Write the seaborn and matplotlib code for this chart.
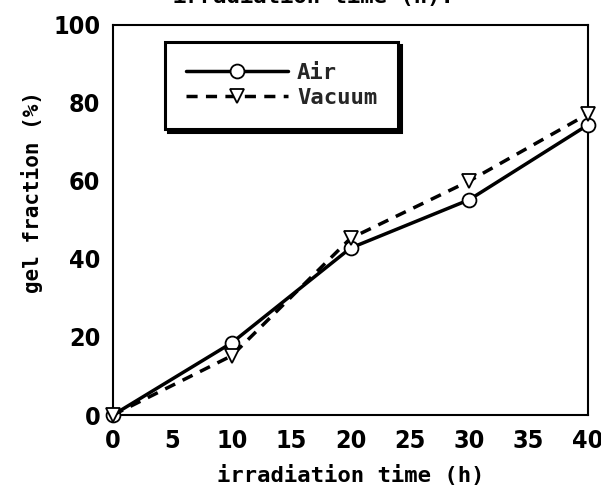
import matplotlib
matplotlib.use("Agg")
import matplotlib.pyplot as plt
import seaborn as sns
import pandas as pd
from matplotlib.lines import Line2D

# data
time_h = [0, 10, 20, 30, 40]
air = [0, 18.5, 42.8, 55.2, 74.4]
vacuum = [0, 15.2, 45.3, 60.0, 77.2]
series_names = ["Air", "Vacuum"]
x_ticks = [0, 5, 10, 15, 20, 25, 30, 35, 40]
y_ticks = [0, 20, 40, 60, 80, 100]

df = pd.DataFrame({
    "time": time_h * 2,
    "gel": air + vacuum,
    "series": [series_names[0]] * len(time_h) + [series_names[1]] * len(time_h),
})

sns.set_theme(style="white")
plt.rcParams["font.family"] = ["DejaVu Sans"]
mono = ["DejaVu Sans Mono", "DejaVu Sans"]

fig = plt.figure(figsize=(6.01, 4.86), dpi=100)
ax = fig.add_axes([113 / 601, 71 / 486, 475 / 601, 390 / 486])

sns.lineplot(data=df, x="time", y="gel", hue="series", style="series",
             palette={"Air": "black", "Vacuum": "black"},
             dashes={"Air": "", "Vacuum": (3.2, 2.4)},
             markers={"Air": "o", "Vacuum": "v"},
             markersize=10, markerfacecolor="white", markeredgecolor="black",
             markeredgewidth=1.3, linewidth=2.5, ax=ax, legend=False,
             clip_on=False, zorder=3)

ax.set_xlim(0, 40)
ax.set_ylim(0, 100)
ax.set_xticks(x_ticks)
ax.set_yticks(y_ticks)
tick_font = dict(fontsize=18, fontweight="bold", fontstretch="condensed")
ax.set_xticklabels([str(t) for t in x_ticks], **tick_font)
ax.set_yticklabels([str(t) for t in y_ticks], **tick_font)
ax.tick_params(axis="x", direction="in", length=13, width=1.5, pad=10, colors="black")
ax.tick_params(axis="y", direction="in", length=11, width=1.5, pad=9, colors="black")
for s in ax.spines.values():
    s.set_color("black")
    s.set_linewidth(1.5)

ax.set_xlabel("irradiation time (h)", fontsize=16, fontweight="bold",
              family=mono, labelpad=9, color="black")
ax.set_ylabel("gel fraction (%)", fontsize=15, fontweight="bold",
              family=mono, color="black")
ax.yaxis.set_label_coords(-0.147, 0.572)

# legend
handles = [
    Line2D([], [], color="black", lw=2.5, marker="o", markersize=10,
           markerfacecolor="white", markeredgecolor="black", markeredgewidth=1.3),
    Line2D([], [], color="black", lw=2.5, ls=(0, (3.2, 2.4)), marker="v", markersize=10,
           markerfacecolor="white", markeredgecolor="black", markeredgewidth=1.3),
]
leg = ax.legend(handles, series_names, loc="upper left",
                bbox_to_anchor=(0.109, 0.956), borderaxespad=0,
                handlelength=4.6, handletextpad=0.4,
                borderpad=0.95, labelspacing=0.2, fancybox=False, framealpha=1,
                prop={"family": mono, "weight": "bold", "size": 16},
                shadow={"color": "black", "alpha": 1})
leg.get_frame().set_edgecolor("black")
leg.get_frame().set_linewidth(2.2)

# cut-off text of the figure above
fig.text(313 / 601, 1 - 3 / 486, "irradiation time (h).", ha="center", va="baseline",
         fontsize=16, fontweight="bold", family=mono, color="black")

fig.savefig("out.png", dpi=100)
